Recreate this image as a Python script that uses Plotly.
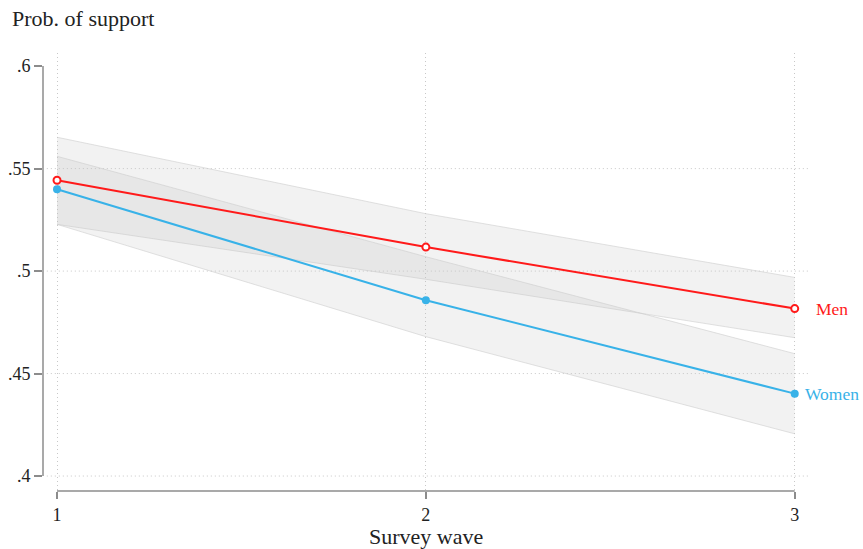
import plotly.graph_objects as go

waves = [1, 2, 3]
men_mean = [0.5443, 0.5117, 0.4817]
men_lo = [0.5228, 0.4960, 0.4675]
men_hi = [0.5653, 0.5280, 0.4969]
women_mean = [0.5399, 0.4858, 0.4402]
women_lo = [0.5228, 0.4680, 0.4206]
women_hi = [0.5560, 0.5070, 0.4597]
y_ticks = [0.4, 0.45, 0.5, 0.55, 0.6]
y_ticktext = [".4", ".45", ".5", ".55", ".6"]
x_ticks = [1, 2, 3]

FONT = "Liberation Serif"
band_fill = "rgba(195,195,195,0.21)"
band_edge = "rgba(205,205,205,0.6)"
RED = "#ff1a1a"
BLUE = "#38b2e8"
GRID = "#c8c8c8"
AXIS = "#8c8c8c"

fig = go.Figure()

for lo, hi in [(men_lo, men_hi), (women_lo, women_hi)]:
    fig.add_trace(go.Scatter(x=waves, y=lo, mode="lines",
                             line=dict(color=band_edge, width=1),
                             hoverinfo="skip", showlegend=False))
    fig.add_trace(go.Scatter(x=waves, y=hi, mode="lines", fill="tonexty",
                             fillcolor=band_fill,
                             line=dict(color=band_edge, width=1),
                             hoverinfo="skip", showlegend=False))

fig.add_trace(go.Scatter(x=waves, y=men_mean, mode="lines+markers", name="Men",
                         line=dict(color=RED, width=2),
                         marker=dict(symbol="circle", size=7, color="white",
                                     line=dict(color=RED, width=2)),
                         showlegend=False))
fig.add_trace(go.Scatter(x=waves, y=women_mean, mode="lines+markers", name="Women",
                         line=dict(color=BLUE, width=2),
                         marker=dict(symbol="circle", size=8, color=BLUE),
                         showlegend=False))

# horizontal gridlines (none at the top tick)
for v in y_ticks[:-1]:
    fig.add_shape(type="line", xref="paper", yref="y", x0=0.005, x1=1, y0=v, y1=v,
                  line=dict(color=GRID, width=1, dash="1px,3px"), layer="below")

# axis lines spanning only the tick range
fig.add_shape(type="line", xref="paper", yref="y", x0=0, x1=0, y0=0.4, y1=0.6,
              line=dict(color=AXIS, width=1.5))
fig.add_shape(type="line", xref="x", yref="paper", x0=1, x1=3, y0=0, y1=0,
              line=dict(color=AXIS, width=1.5))

fig.add_annotation(x=3, y=men_mean[2], xref="x", yref="y", text="Men",
                   showarrow=False, xanchor="left", xshift=19,
                   font=dict(family=FONT, size=17.5, color=RED))
fig.add_annotation(x=3, y=women_mean[2], xref="x", yref="y", text="Women",
                   showarrow=False, xanchor="left", xshift=8,
                   font=dict(family=FONT, size=17.5, color=BLUE))
fig.add_annotation(x=0, y=1, xref="paper", yref="paper", text="Prob. of support",
                   showarrow=False, xanchor="left", yanchor="middle",
                   xshift=-33, yshift=35,
                   font=dict(family=FONT, size=22, color="#222"))
fig.add_annotation(x=0.5, y=0, xref="paper", yref="paper", text="Survey wave",
                   showarrow=False, xanchor="center", yanchor="middle", yshift=-45,
                   font=dict(family=FONT, size=22, color="#222"))

fig.update_xaxes(range=[0.962, 3.036], tickvals=x_ticks, ticktext=["1", "2", "3"],
                 showgrid=True, gridcolor=GRID, griddash="1px,3px", gridwidth=1,
                 zeroline=False, showline=False, automargin=False,
                 ticks="outside", ticklen=7, tickcolor=AXIS, tickwidth=1.5,
                 tickfont=dict(family=FONT, size=18, color="#222"))
fig.update_yaxes(range=[0.3927, 0.6064], tickvals=y_ticks, ticktext=y_ticktext,
                 showgrid=False, zeroline=False, showline=False, automargin=False,
                 ticks="outside", ticklen=8, tickcolor=AXIS, tickwidth=1.5,
                 tickfont=dict(family=FONT, size=18, color="#222"))

fig.update_layout(width=863, height=549, plot_bgcolor="white", paper_bgcolor="white",
                  margin=dict(l=43, r=55, t=53, b=58),
                  font=dict(family=FONT))

fig.write_html("out.html", config={"displayModeBar": False},
               post_script="document.body.style.margin='0';"
                           "document.documentElement.style.overflow='hidden';")
